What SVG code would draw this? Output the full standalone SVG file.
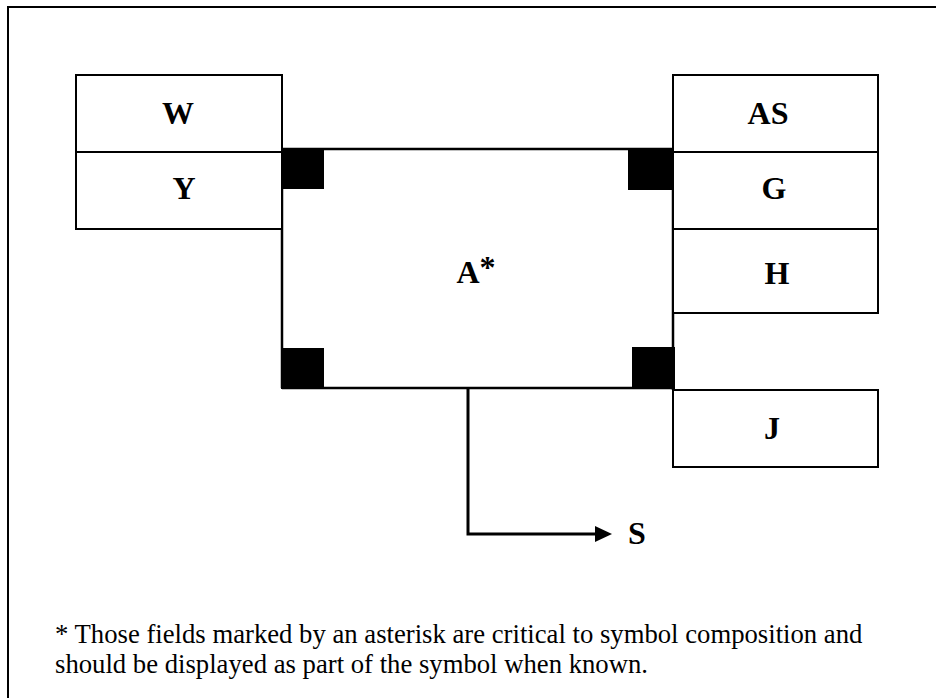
<svg xmlns="http://www.w3.org/2000/svg" width="936" height="698" viewBox="0 0 936 698">
<style>
.box{fill:#fff;stroke:#000;stroke-width:2}
.ln{stroke:#000;stroke-width:2.5;fill:none}
.sq{fill:#000}
.lbl{font-family:"Liberation Serif","Times New Roman",serif;font-weight:bold;font-size:32px;fill:#000;text-anchor:middle}
.note{font-family:"Liberation Serif","Times New Roman",serif;font-size:26.7px;fill:#000}
</style>
<rect x="8" y="7" width="960" height="720" fill="#fff" stroke="#000" stroke-width="2"/>
<g id="node-A">
<line class="ln" x1="282" y1="149" x2="673" y2="149"/>
<line class="ln" x1="282" y1="388" x2="673" y2="388"/>
<line class="ln" x1="282" y1="149" x2="282" y2="388"/>
<line class="ln" x1="673" y1="149" x2="673" y2="390"/>
<rect class="sq" x="282" y="149" width="42" height="40"/>
<rect class="sq" x="628" y="149" width="45" height="41"/>
<rect class="sq" x="281" y="348" width="43" height="41"/>
<rect class="sq" x="632" y="347" width="43" height="42"/>
<text class="lbl" x="476" y="283" text-anchor="middle">A<tspan dy="-5">*</tspan></text>
</g>
<g id="node-W"><rect class="box" x="76" y="75" width="206" height="77"/><text class="lbl" x="178" y="124">W</text></g>
<g id="node-Y"><rect class="box" x="76" y="152" width="206" height="77"/><text class="lbl" x="184" y="199">Y</text></g>
<g id="node-AS"><rect class="box" x="673" y="75" width="205" height="77"/><text class="lbl" x="768" y="124">AS</text></g>
<g id="node-G"><rect class="box" x="673" y="152" width="205" height="77"/><text class="lbl" x="774" y="199">G</text></g>
<g id="node-H"><rect class="box" x="673" y="229" width="205" height="84"/><text class="lbl" x="777" y="284">H</text></g>
<g id="node-J"><rect class="box" x="673" y="390" width="205" height="77"/><text class="lbl" x="772" y="439">J</text></g>
<g id="connectors">
<polyline points="468,388 468,534 597,534" fill="none" stroke="#000" stroke-width="3"/>
<polygon points="595,526 612,534 595,542" fill="#000"/>
</g>
<g id="node-S"><text class="lbl" x="637" y="544">S</text></g>
<g id="footnote">
<text class="note" x="55" y="643">* Those fields marked by an asterisk are critical to symbol composition and</text>
<text class="note" x="55" y="673">should be displayed as part of the symbol when known.</text>
</g>
</svg>
